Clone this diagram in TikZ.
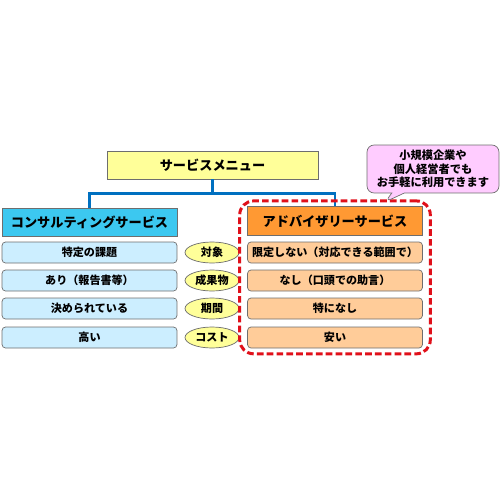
\documentclass[tikz,border=0pt]{standalone}
\usepackage{fontspec}
\setmainfont{Noto Sans CJK JP}
\usepackage{xcolor}
\usetikzlibrary{positioning,shapes.callouts,shapes.geometric,fit}
\definecolor{menuY}{HTML}{FFFF99}
\definecolor{cstB}{HTML}{3CC8F0}
\definecolor{cstL}{HTML}{CCEEFF}
\definecolor{advO}{HTML}{FF9933}
\definecolor{advL}{HTML}{FFCC99}
\definecolor{noteP}{HTML}{FFCCFF}
\definecolor{connB}{HTML}{0070C0}
\definecolor{frameR}{HTML}{E0101A}
\definecolor{edgeG}{HTML}{6E6E6E}
\tikzset{
  menu/.style={draw=edgeG, fill=menuY, font=\fontsize{7.5}{9}\selectfont\bfseries, minimum width=42.2mm, minimum height=5.6mm, inner sep=0pt},
  hdr/.style={draw=edgeG, font=\fontsize{7.5}{9}\selectfont\bfseries, minimum width=35mm, minimum height=5.7mm, inner sep=0pt},
  row/.style={draw=edgeG, rounded corners=2pt, font=\fontsize{6.3}{7}\selectfont\bfseries, minimum width=35mm, minimum height=4.2mm, inner sep=0pt},
  tag/.style={draw=edgeG, ellipse, fill=menuY, font=\fontsize{6.3}{7}\selectfont\bfseries, minimum width=10.8mm, minimum height=4.2mm, inner sep=0pt},
  note/.style={draw=edgeG, rectangle callout, rounded corners=4pt, fill=noteP, align=center, font=\fontsize{6.4}{7.6}\selectfont\bfseries, minimum width=26.4mm, minimum height=9.6mm, inner sep=0pt},
  conn/.style={draw=connB, line width=1.4pt},
}
\begin{document}
\begin{tikzpicture}[x=0.02cm, y=-0.02cm]
  \useasboundingbox (0,0) rectangle (500,500);
  \node[menu] (menu) at (212.5,165) {サービスメニュー};
  \node[hdr, fill=cstB] (cst) at (89.5,222.5) {コンサルティングサービス};
  \node[hdr, fill=advO] (adv) at (335,221) {アドバイザリーサービス};
  \draw[conn] (menu.south) -- ++(0,14) -| (cst.north);
  \draw[conn] (menu.south) -- ++(0,14) -| (adv.north);
  % rows
  \node[row, fill=cstL] (c1) at (89.5,252.5) {特定の課題};
  \node[row, fill=cstL] (c2) at (89.5,280.5) {あり（報告書等）};
  \node[row, fill=cstL] (c3) at (89.5,308.5) {決められている};
  \node[row, fill=cstL] (c4) at (89.5,337.5) {高い};
  \node[tag] (t1) at (212,252.5) {対象};
  \node[tag] (t2) at (212,280.5) {成果物};
  \node[tag] (t3) at (212,308.5) {期間};
  \node[tag] (t4) at (212,337.5) {コスト};
  \node[row, fill=advL] (a1) at (335,252.5) {限定しない（対応できる範囲で）};
  \node[row, fill=advL] (a2) at (335,280.5) {なし（口頭での助言）};
  \node[row, fill=advL] (a3) at (335,308.5) {特になし};
  \node[row, fill=advL] (a4) at (335,337.5) {安い};
  \node[draw=frameR, line width=1.7pt, dash pattern=on 3.8pt off 1.8pt, rounded corners=8pt, inner xsep=1.5mm, inner ysep=1.1mm, fit=(adv)(a4)] (frame) {};
  \coordinate (tip) at (385,202);
  \node[note, callout absolute pointer={(tip)}] (memo) at (433,169) {小規模企業や\\個人経営者でも\\お手軽に利用できます};
\end{tikzpicture}
\end{document}
